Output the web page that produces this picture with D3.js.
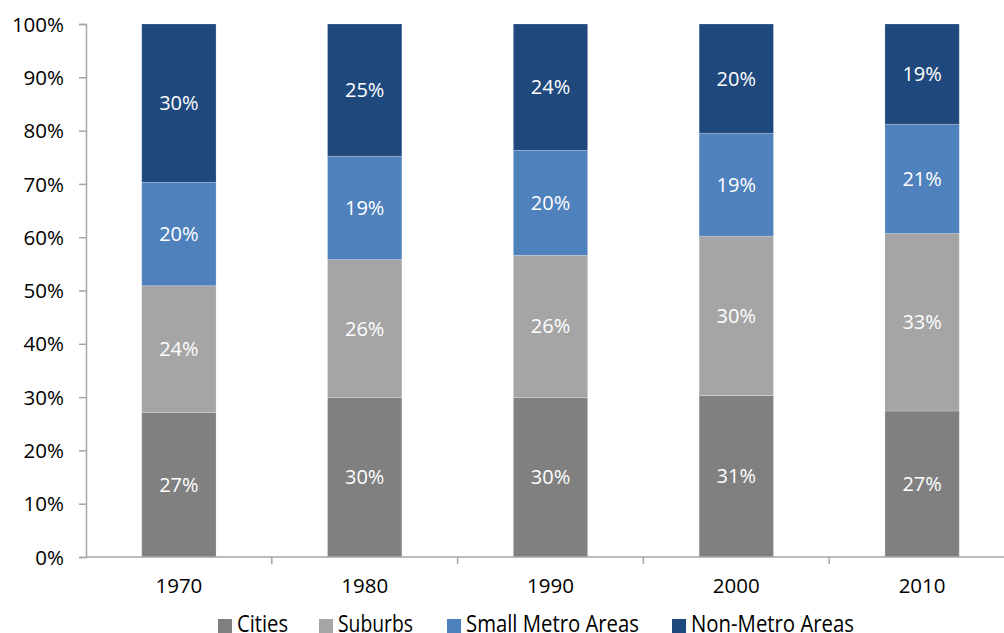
<!DOCTYPE html>
<html>
<head>
<meta charset="utf-8">
<script src="https://cdn.jsdelivr.net/npm/d3@7/dist/d3.min.js"></script>
<style>
  body { margin: 0; background: #fff; }
  svg text { font-family: "Open Sans", "DejaVu Sans", sans-serif; }
</style>
</head>
<body>
<div id="chart"></div>
<script>
// shares of population by area type
var years = ['1970', '1980', '1990', '2000', '2010'];
var series = ['Cities', 'Suburbs', 'Small Metro Areas', 'Non-Metro Areas'];
var cities = [27.1, 29.9, 29.9, 30.3, 27.4];
var suburbs = [23.8, 25.9, 26.7, 29.9, 33.3];
var smallMetro = [19.4, 19.4, 19.7, 19.3, 20.5];
var nonMetro = [29.7, 24.8, 23.7, 20.5, 18.8];
var labels = [
    ['27%', '30%', '30%', '31%', '27%'],
    ['24%', '26%', '26%', '30%', '33%'],
    ['20%', '19%', '20%', '19%', '21%'],
    ['30%', '25%', '24%', '20%', '19%']
];
var colors = ['#808080', '#a5a5a5', '#4f81bd', '#1f497d'];

(function() {
    'use strict';
    var width = 1004, height = 633;
    var marginLeft = 86, plotTop = 24, plotBottom = 557;
    var bandW = 185.8;

    var svg = d3.select('#chart').append('svg')
        .attr('width', width)
        .attr('height', height);

    var x = d3.scaleBand()
        .domain(years)
        .range([marginLeft, marginLeft + bandW * years.length])
        .paddingInner(0.6)
        .paddingOuter(0.3);

    var y = d3.scaleLinear()
        .domain([0, 100])
        .range([plotBottom, plotTop]);

    var rows = years.map(function(yr, i) {
        return {
            year: yr,
            'Cities': cities[i],
            'Suburbs': suburbs[i],
            'Small Metro Areas': smallMetro[i],
            'Non-Metro Areas': nonMetro[i]
        };
    });

    var stacked = d3.stack().keys(series)(rows);

    //bars
    var layer = svg.selectAll('g.layer')
        .data(stacked)
        .enter().append('g')
            .attr('class', 'layer')
            .attr('fill', function(d, i) { return colors[i]; });

    layer.selectAll('rect')
        .data(function(d) { return d; })
        .enter().append('rect')
            .attr('x', function(d) { return x(d.data.year); })
            .attr('y', function(d) { return y(d[1]); })
            .attr('width', x.bandwidth())
            .attr('height', function(d) { return y(d[0]) - y(d[1]); })
            .attr('stroke', 'rgba(255,255,255,0.25)')
            .attr('stroke-width', 0.8);

    //value labels
    layer.each(function(s, si) {
        d3.select(this).selectAll('text')
            .data(s)
            .enter().append('text')
                .attr('x', function(d) { return x(d.data.year) + x.bandwidth() / 2; })
                .attr('y', function(d) { return (y(d[0]) + y(d[1])) / 2 + 7; })
                .attr('text-anchor', 'middle')
                .attr('fill', '#fff')
                .attr('font-size', 20)
                .text(function(d, i) { return labels[si][i]; });
    });

    //y axis
    var yAxis = d3.axisLeft(y)
        .tickValues(d3.range(0, 101, 10))
        .tickSize(7)
        .tickFormat(function(d) { return d + '%'; });

    var gy = svg.append('g')
        .attr('transform', 'translate(' + marginLeft + ',0)')
        .call(yAxis);
    gy.select('.domain').attr('stroke', '#a6a6a6').attr('stroke-width', 1.5);
    gy.selectAll('.tick line').attr('stroke', '#a6a6a6').attr('stroke-width', 1.5);
    gy.selectAll('.tick text')
        .attr('x', -22)
        .attr('dy', '0.35em')
        .attr('font-size', 20.5)
        .attr('fill', '#000')
        .attr('font-family', '"Open Sans", sans-serif');

    //x axis
    svg.append('line')
        .attr('x1', marginLeft).attr('x2', width)
        .attr('y1', plotBottom).attr('y2', plotBottom)
        .attr('stroke', '#a6a6a6').attr('stroke-width', 1.5);

    svg.selectAll('line.xtick')
        .data(d3.range(1, years.length))
        .enter().append('line')
            .attr('class', 'xtick')
            .attr('x1', function(i) { return x.range()[0] + i * x.step(); })
            .attr('x2', function(i) { return x.range()[0] + i * x.step(); })
            .attr('y1', plotBottom).attr('y2', plotBottom + 7)
            .attr('stroke', '#a6a6a6').attr('stroke-width', 1.5);

    svg.selectAll('text.year')
        .data(years)
        .enter().append('text')
            .attr('class', 'year')
            .attr('x', function(d) { return x(d) + x.bandwidth() / 2; })
            .attr('y', 593)
            .attr('text-anchor', 'middle')
            .attr('font-size', 20.5)
            .attr('fill', '#000')
            .text(function(d) { return d; });

    //legend
    var legendX = [218, 319, 447, 672];
    var legendLen = [51, 75, 173, 163];
    var lg = svg.selectAll('g.legend')
        .data(series)
        .enter().append('g')
            .attr('class', 'legend')
            .attr('transform', function(d, i) { return 'translate(' + legendX[i] + ',0)'; });

    lg.append('rect')
        .attr('x', 0).attr('y', 619)
        .attr('width', 14).attr('height', 14)
        .attr('fill', function(d, i) { return colors[i]; });

    lg.append('text')
        .attr('x', 19)
        .attr('y', 632)
        .attr('font-size', 24)
        .attr('fill', '#000')
        .attr('textLength', function(d, i) { return legendLen[i]; })
        .attr('lengthAdjust', 'spacingAndGlyphs')
        .text(function(d) { return d; });
})();
</script>
</body>
</html>
